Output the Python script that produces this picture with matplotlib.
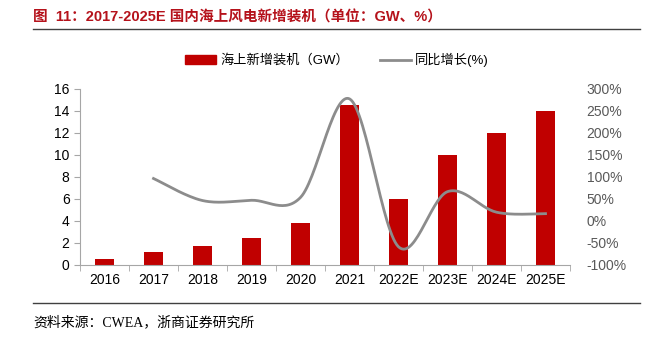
import numpy as np
import matplotlib.pyplot as plt
from matplotlib.lines import Line2D
from matplotlib.patches import Patch

plt.rcParams['font.family'] = ['Liberation Sans', 'Noto Sans CJK SC', 'DejaVu Sans']

years = ["2016", "2017", "2018", "2019", "2020", "2021", "2022E", "2023E", "2024E", "2025E"]
capacity = [0.59, 1.16, 1.7, 2.5, 3.84, 14.5, 6, 10, 12, 14]
growth = [None, 96.6, 46.5, 47.1, 53.6, 277.6, -58.6, 66.7, 20.0, 16.7]

red = "#C00000"
gray = "#8C8C8C"


def smooth(xs, ys, n=30):
    # Catmull-Rom spline, similar to a spreadsheet "smoothed line"
    px = [xs[0]] + list(xs) + [xs[-1]]
    py = [ys[0]] + list(ys) + [ys[-1]]
    ox, oy = [], []
    for i in range(1, len(px) - 2):
        t = np.linspace(0, 1, n, endpoint=False)
        for p, o in ((px, ox), (py, oy)):
            p0, p1, p2, p3 = p[i - 1], p[i], p[i + 1], p[i + 2]
            o.extend(0.5 * (2 * p1 + (-p0 + p2) * t
                            + (2 * p0 - 5 * p1 + 4 * p2 - p3) * t ** 2
                            + (-p0 + 3 * p1 - 3 * p2 + p3) * t ** 3))
    ox.append(xs[-1])
    oy.append(ys[-1])
    return ox, oy


fig = plt.figure(figsize=(6.47, 3.37), dpi=100)
ax = fig.add_axes([80 / 647, 72 / 337, 490 / 647, 176 / 337])
x = np.arange(len(years))
ax.bar(x, capacity, width=0.39, color=red, zorder=2)
ax.set_xlim(-0.5, len(years) - 0.5)
ax.set_ylim(0, 16)
ax.set_yticks(range(0, 17, 2))
ax.set_xticks(x)
ax.set_xticklabels(years)
ax.set_xticks(np.arange(-0.5, len(years), 1), minor=True)
ax.tick_params(axis='x', which='major', length=0, labelsize=10, pad=6)
ax.tick_params(axis='x', which='minor', length=4, color="#A6A6A6", direction='out')
ax.tick_params(axis='y', length=4, color="#A6A6A6", labelsize=10, labelcolor="#000000")
for s in ("top", "right"):
    ax.spines[s].set_visible(False)
ax.spines["left"].set_color("#A6A6A6")
ax.spines["bottom"].set_color("#A6A6A6")

ax2 = ax.twinx()
gx = [i for i, g in enumerate(growth) if g is not None]
gy = [g for g in growth if g is not None]
sx, sy = smooth(gx, gy)
ax2.plot(sx, sy, color=gray, lw=2, zorder=3)
ax2.set_ylim(-100, 300)
ax2.set_yticks(range(-100, 301, 50))
ax2.set_yticklabels([f"{v}%" for v in range(-100, 301, 50)])
ax2.tick_params(axis='y', length=0, labelsize=10, labelcolor="#595959", pad=12)
for s in ax2.spines.values():
    s.set_visible(False)

handles = [Patch(color=red), Line2D([], [], color=gray, lw=2)]
fig.legend(handles, ["海上新增装机（GW）", "同比增长(%)"], loc="center",
           bbox_to_anchor=(337 / 647, 1 - 60 / 337), ncol=2, frameon=False,
           fontsize=9.5, handlelength=2.35, handleheight=0.6,
           handletextpad=0.35, columnspacing=2.3)

fig.text(33 / 647, 1 - 17 / 337, "图  11：2017-2025E 国内海上风电新增装机（单位：GW、%）",
         color="#B5121B", fontsize=10.5, fontweight="bold", va="center")
fig.add_artist(Line2D([33 / 647, 640 / 647], [1 - 29 / 337] * 2, color="#404040", lw=1))
fig.add_artist(Line2D([33 / 647, 640 / 647], [1 - 303 / 337] * 2, color="#404040", lw=1))
fig.text(33 / 647, 1 - 322 / 337, "资料来源：CWEA，浙商证券研究所",
         fontsize=10, va="center", color="#000000",
         family=['Liberation Serif', 'Noto Sans CJK SC'])

fig.savefig("out.png", dpi=100)
